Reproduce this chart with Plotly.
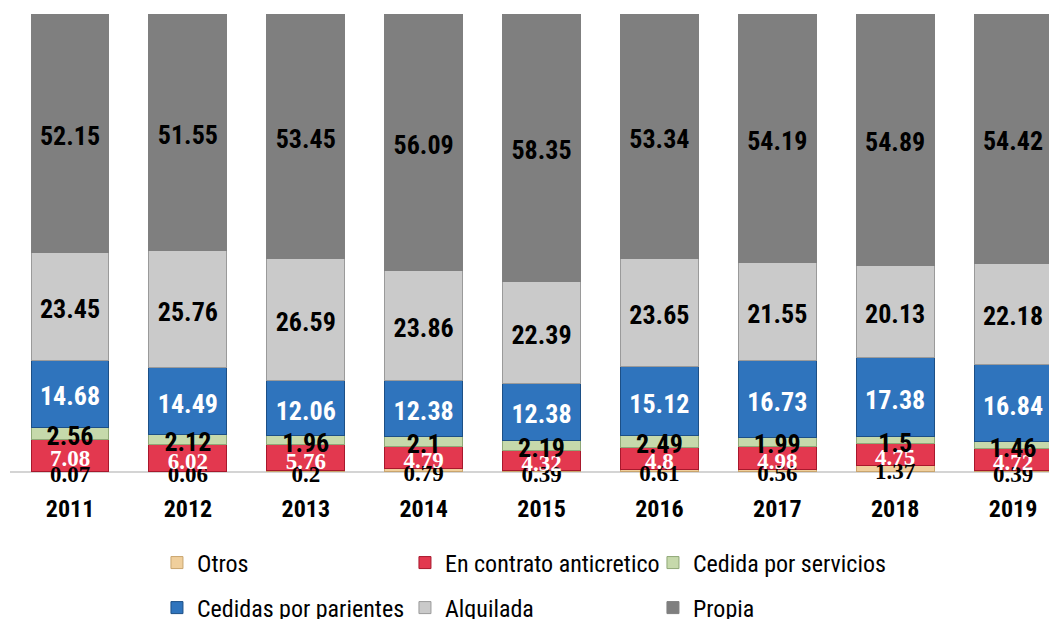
import plotly.graph_objects as go

years = ["2011", "2012", "2013", "2014", "2015", "2016", "2017", "2018", "2019"]

otros = [0.07, 0.06, 0.2, 0.79, 0.39, 0.61, 0.56, 1.37, 0.39]
anticretico = [7.08, 6.02, 5.76, 4.79, 4.32, 4.8, 4.98, 4.75, 4.72]
servicios = [2.56, 2.12, 1.96, 2.1, 2.19, 2.49, 1.99, 1.5, 1.46]
parientes = [14.68, 14.49, 12.06, 12.38, 12.38, 15.12, 16.73, 17.38, 16.84]
alquilada = [23.45, 25.76, 26.59, 23.86, 22.39, 23.65, 21.55, 20.13, 22.18]
propia = [52.15, 51.55, 53.45, 56.09, 58.35, 53.34, 54.19, 54.89, 54.42]

narrow = "Liberation Sans Narrow, Arial Narrow, Roboto Condensed, Liberation Sans, sans-serif"
serif = "Liberation Serif, Times New Roman, serif"

# name, values, fill, edge, label font, label size, label colour, legend
series = [
    ("Otros", otros, "#f0cf9c", "#c9a56e", serif, 23, "black", "legend"),
    ("En contrato anticretico", anticretico, "#e3384f", "#a8182c", serif, 23, "white", "legend"),
    ("Cedida por servicios", servicios, "#c6d9ab", "#8fa877", narrow, 26, "black", "legend"),
    ("Cedidas por parientes", parientes, "#2f74bd", "#1c4f86", narrow, 26, "white", "legend2"),
    ("Alquilada", alquilada, "#cacaca", "#9a9a9a", narrow, 26, "black", "legend2"),
    ("Propia", propia, "#7f7f7f", "#7f7f7f", narrow, 26, "black", "legend2"),
]

label_drop = 1.1  # labels sit a little below the segment centre

fig = go.Figure()

# stacked bars
for name, vals, fill, edge, ffam, fsize, fcol, leg in series:
    fig.add_trace(go.Bar(
        x=years,
        y=vals,
        name=name,
        legend=leg,
        marker=dict(color=fill, line=dict(color=edge, width=1)),
        hoverinfo="name+y",
    ))

# value labels on top of all bars, centred in each segment
base = [0.0] * len(years)
for name, vals, fill, edge, ffam, fsize, fcol, leg in series:
    mids = [b + v / 2 - label_drop for b, v in zip(base, vals)]
    base = [b + v for b, v in zip(base, vals)]
    fig.add_trace(go.Scatter(
        x=years,
        y=mids,
        mode="text",
        text=[f"{v:g}" for v in vals],
        textposition="middle center",
        textfont=dict(family=ffam, size=fsize, color=fcol, weight="bold"),
        showlegend=False,
        hoverinfo="skip",
        cliponaxis=False,
    ))

legend_style = dict(
    orientation="h",
    traceorder="normal",
    xref="container",
    yref="container",
    xanchor="left",
    yanchor="middle",
    x=0.142,
    entrywidth=203,
    entrywidthmode="pixels",
    font=dict(family=narrow, size=24, color="black"),
    bgcolor="rgba(0,0,0,0)",
)

# page body has an 8px margin, so the figure is 8px smaller than the window
fig.update_layout(
    barmode="stack",
    bargap=0.34,
    width=1049,
    height=611,
    margin=dict(l=2, r=0, t=6, b=138, autoexpand=False),
    plot_bgcolor="white",
    paper_bgcolor="white",
    showlegend=True,
    legend=dict(legend_style, y=0.0917),
    legend2=dict(legend_style, y=0.018),
    xaxis=dict(
        range=[-0.509, 8.373],
        showline=False,
        showgrid=False,
        ticks="",
        ticklabelstandoff=11,
        tickfont=dict(family=narrow, size=24, color="black", weight="bold"),
    ),
    yaxis=dict(
        range=[-2, 100],
        showticklabels=False,
        showgrid=False,
        showline=False,
        ticks="",
        zeroline=True,
        zerolinecolor="#d4d4d4",
        zerolinewidth=2,
    ),
)

fig.write_html("out.html")
